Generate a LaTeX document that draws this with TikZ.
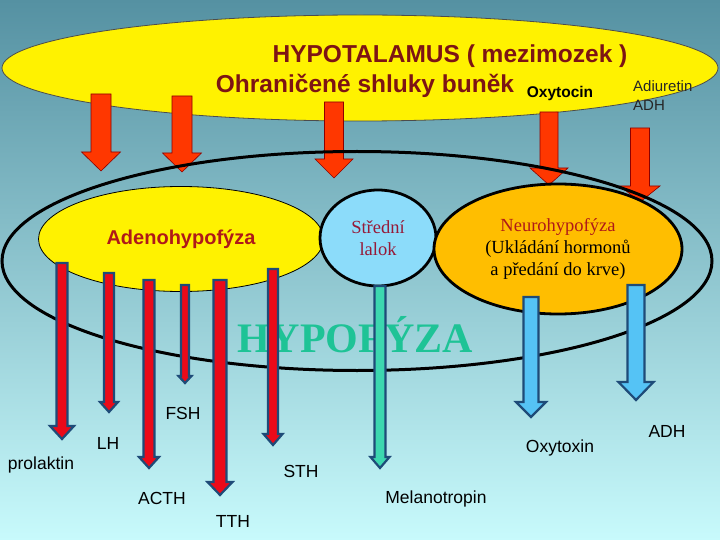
\documentclass[tikz,border=0pt]{standalone}
\usepackage{fontspec}
\setmainfont{Liberation Serif}
\setsansfont{Liberation Sans}
\usetikzlibrary{shapes.geometric}

\definecolor{hypored}{RGB}{125,20,20}
\definecolor{adenored}{RGB}{175,25,25}
\definecolor{lalokred}{RGB}{150,25,55}
\definecolor{arrred}{RGB}{255,55,0}
\definecolor{thinred}{RGB}{235,10,25}
\definecolor{navyline}{RGB}{30,75,120}
\definecolor{tealfill}{RGB}{60,215,175}
\definecolor{skyfill}{RGB}{85,195,245}
\definecolor{lalokblue}{RGB}{140,220,250}
\definecolor{neuroorange}{RGB}{255,190,0}
\definecolor{hypogreen}{RGB}{30,195,150}

% block arrow: style, x, top, head top, tip, shaft half, head half
\newcommand{\harrow}[7]{%
  \draw[#1] ({#2-#6},#3) -- ({#2-#6},#4) -- ({#2-#7},#4) -- (#2,#5)
    -- ({#2+#7},#4) -- ({#2+#6},#4) -- ({#2+#6},#3) -- cycle;}

\tikzset{
  topArrow/.style={fill=arrred, draw=red!55!black, line width=0.6pt},
  redArrow/.style={fill=thinred, draw=navyline, line width=2.2pt},
  tealArrow/.style={fill=tealfill, draw=navyline, line width=2.2pt},
  blueArrow/.style={fill=skyfill, draw=navyline, line width=2.2pt},
  lobe/.style={ellipse, draw=black, line width=2.8pt, inner sep=0pt},
  lbl/.style={font=\sffamily\fontsize{17.5}{20}\selectfont, inner sep=0pt},
  serifText/.style={font=\fontsize{18.5}{22}\selectfont, align=center}
}

\begin{document}
\begin{tikzpicture}[x=1pt, y=-1pt]
\useasboundingbox (0,0) rectangle (720,540);
\shade[top color={rgb,255:red,85;green,145;blue,162},
       middle color={rgb,255:red,150;green,205;blue,212},
       bottom color={rgb,255:red,200;green,250;blue,252}] (0,0) rectangle (720,540);

% hypotalamus
\node[ellipse, fill=yellow, draw=black!70, line width=0.8pt,
      minimum width=716, minimum height=106] (hypotalamus) at (360,68) {};
\node[font=\sffamily\bfseries\fontsize{24.5}{28}\selectfont, text=hypored,
      anchor=base] (hypoTitle) at (450,63) {HYPOTALAMUS ( mezimozek )};
\node[font=\sffamily\bfseries\fontsize{24.5}{28}\selectfont, text=hypored,
      anchor=base] (shluky) at (365,93) {Ohraničené shluky buněk};
\node[font=\sffamily\bfseries\fontsize{15.5}{18}\selectfont, anchor=base]
      (oxytocin) at (560,98) {Oxytocin};
\node[font=\sffamily\fontsize{15}{18}\selectfont, text=black!85,
      anchor=base west, inner sep=0pt] (adiuretin) at (633,92) {Adiuretin};
\node[font=\sffamily\fontsize{15}{18}\selectfont, text=black!85,
      anchor=base west, inner sep=0pt] (adhTop) at (633,111) {ADH};

% arrows out of hypotalamus
\harrow{topArrow}{101}{94}{152}{171}{10}{19.5}
\harrow{topArrow}{182}{96}{153}{172}{10}{19.5}
\harrow{topArrow}{334}{102}{159}{178}{9.5}{19}
\harrow{topArrow}{549}{112}{168}{185}{9}{19}
\harrow{topArrow}{640}{128}{186}{202}{9.5}{20}

% hypofyza
\node[ellipse, draw=black, line width=3pt,
      minimum width=710, minimum height=219] (hypofyza) at (357,261) {};
\node[font=\bfseries\fontsize{42}{46}\selectfont, text=hypogreen, anchor=base,
      inner sep=0pt] (hypoLabel) at (355,352) {HYPOFÝZA};

\node[ellipse, fill=yellow, draw=black, line width=0.8pt, inner sep=0pt,
      minimum width=285, minimum height=105,
      font=\sffamily\bfseries\fontsize{20}{24}\selectfont, text=adenored]
      (adeno) at (181,239) {Adenohypofýza};
\node[lobe, fill=lalokblue, minimum width=116, minimum height=96,
      serifText, text=lalokred] (stredni) at (378,238) {Střední\\lalok};
\node[lobe, fill=neuroorange, minimum width=248, minimum height=130,
      serifText] (neuro) at (558,249)
      {\textcolor{adenored}{Neurohypofýza}\\(Ukládání hormonů\\a předání do krve)};

% hormones
\harrow{redArrow}{62}{263}{426}{439}{5.5}{12}
\harrow{redArrow}{109}{273}{402}{412}{5}{9}
\harrow{redArrow}{149}{280}{457}{468}{5.5}{10}
\harrow{redArrow}{185}{285}{376}{383}{4}{6.5}
\harrow{redArrow}{220}{280}{482}{495}{6.5}{12.5}
\harrow{redArrow}{273}{269}{434}{445}{5}{9.5}
\harrow{tealArrow}{380}{286}{457}{468}{5.5}{9.5}
\harrow{blueArrow}{531}{297}{402}{417}{7.5}{15}
\harrow{blueArrow}{636}{285}{382}{400}{8.5}{17.5}

\node[lbl] (prolaktin) at (41,465) {prolaktin};
\node[lbl] (lh) at (108,443) {LH};
\node[lbl] (fsh) at (183,413) {FSH};
\node[lbl] (acth) at (162,498) {ACTH};
\node[lbl] (tth) at (233,521) {TTH};
\node[lbl] (sth) at (301,471) {STH};
\node[lbl] (melanotropin) at (436,499) {Melanotropin};
\node[lbl] (oxytoxin) at (560,448) {Oxytoxin};
\node[lbl] (adh) at (667,431) {ADH};
\end{tikzpicture}
\end{document}
